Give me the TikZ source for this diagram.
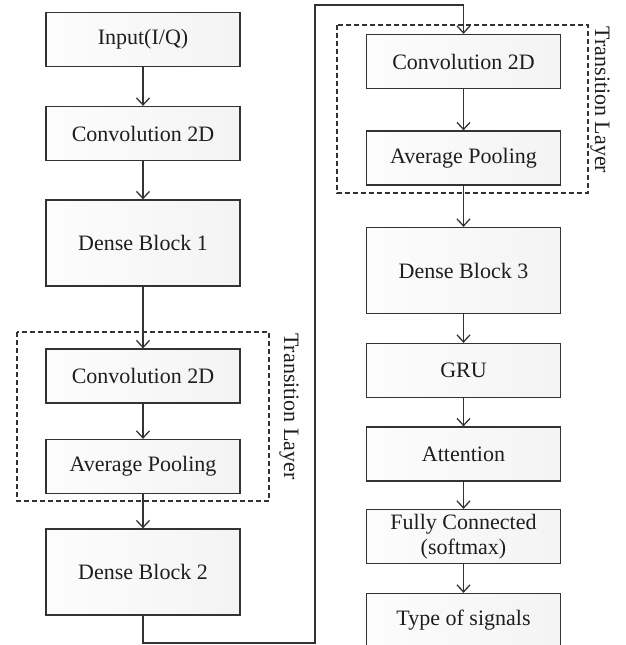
\documentclass[tikz,border=0pt]{standalone}
\usepackage{fontspec}
\setmainfont{Liberation Serif}
\usetikzlibrary{arrows.meta}
\definecolor{edge}{HTML}{333333}
\definecolor{txt}{HTML}{1e1e1e}
\begin{document}
\begin{tikzpicture}[x=1pt,y=-1pt,
  blk/.style={draw=edge,line width=1.3pt,left color=gray!2,right color=gray!9,
    minimum width=194pt,minimum height=54pt,inner sep=0pt,align=center,
    text=txt,font=\fontsize{22}{25}\selectfont},
  tall/.style={blk,minimum height=86pt},
  arr/.style={draw=edge,line width=1.3pt,-{Straight Barb[length=7pt,width=13pt,line width=1.3pt]}},
  grp/.style={draw=edge,line width=1.2pt,dash pattern=on 5pt off 3pt},
  lbl/.style={text=txt,font=\fontsize{22}{25}\selectfont,rotate=-90,inner sep=0pt}]
\clip (0,0) rectangle (626,645);
\fill[white] (0,0) rectangle (626,645);
% groups
\draw[grp] (17,332) rectangle (269,501);
\draw[grp] (337,25) rectangle (588,193);
\node[lbl] (tl1) at (289,406.5) {Transition Layer};
\node[lbl] (tl2) at (600,100) {Transition Layer};
% left column
\node[blk] (in) at (143,39.5) {Input(I/Q)};
\node[blk] (c1) at (143,133.5) {Convolution 2D};
\node[tall] (d1) at (143,243) {Dense Block 1};
\node[blk] (c2) at (143,376) {Convolution 2D};
\node[blk] (p2) at (143,466.5) {Average Pooling};
\node[tall] (d2) at (143,572) {Dense Block 2};
% right column
\node[blk] (c3) at (463.5,61.5) {Convolution 2D};
\node[blk] (p3) at (463.5,158) {Average Pooling};
\node[tall] (d3) at (463.5,270.5) {Dense Block 3};
\node[blk] (gru) at (463.5,370.5) {GRU};
\node[blk] (att) at (463.5,454) {Attention};
\node[blk] (fc) at (463.5,536.5) {Fully Connected\\(softmax)};
\node[blk] (out) at (463.5,620.5) {Type of signals};
% connectors
\draw[arr] (in) -- (c1);
\draw[arr] (c1) -- (d1);
\draw[arr] (d1) -- (c2);
\draw[arr] (c2) -- (p2);
\draw[arr] (p2) -- (d2);
\coordinate (r1) at (315,643);
\coordinate (r2) at (463.5,5);
\draw[arr] (d2.south) |- (r1) |- (r2) -- (c3.north);
\draw[arr] (c3) -- (p3);
\draw[arr] (p3) -- (d3);
\draw[arr] (d3) -- (gru);
\draw[arr] (gru) -- (att);
\draw[arr] (att) -- (fc);
\draw[arr] (fc) -- (out);
\end{tikzpicture}
\end{document}
